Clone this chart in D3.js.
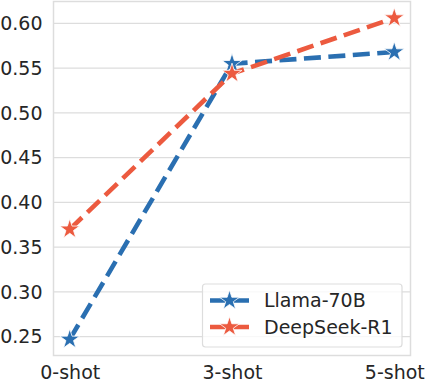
<!DOCTYPE html>
<html><head><meta charset="utf-8">
<script src="https://cdn.jsdelivr.net/npm/d3@7"></script>
<style>body{margin:0;background:#fff}svg{display:block;font-family:"DejaVu Sans",sans-serif}</style>
</head><body><svg id="c" width="426" height="384"></svg>
<script>
const categories = ["0-shot", "3-shot", "5-shot"];
const seriesNames = ["Llama-70B", "DeepSeek-R1"];
const llama = [0.247, 0.555, 0.568];
const deepseek = [0.370, 0.544, 0.606];
const yTicks = [0.25, 0.30, 0.35, 0.40, 0.45, 0.50, 0.55, 0.60];
const colors = ["#2a6fb1", "#ec5a3f"];

const svg = d3.select("#c");
const L = 53.5, R = 410.5, T = 1.5, B = 355.5;
const x = d3.scalePoint().domain(categories).range([L, R]).padding(0.1);
const y = d3.scaleLinear().domain([0.229, 0.6245]).range([B, T]);

// grid
svg.append("g").selectAll("line").data(yTicks).join("line")
  .attr("x1", L).attr("x2", R).attr("y1", d => y(d)).attr("y2", d => y(d))
  .attr("stroke", "#dddddd").attr("stroke-width", 1.2);
// frame
svg.append("rect").attr("x", L).attr("y", T).attr("width", R - L).attr("height", B - T)
  .attr("fill", "none").attr("stroke", "#dddddd").attr("stroke-width", 1.5);

// y axis
const ya = svg.append("g").attr("transform", `translate(${L},0)`)
  .call(d3.axisLeft(y).tickValues(yTicks).tickFormat(d3.format(".2f")).tickSize(0).tickPadding(11));
ya.select(".domain").remove();
ya.selectAll("text").attr("font-size", "19px").attr("fill", "#262626").attr("font-family", "DejaVu Sans");

// x axis
const xa = svg.append("g").attr("transform", `translate(0,${B})`)
  .call(d3.axisBottom(x).tickSize(0).tickPadding(10));
xa.select(".domain").remove();
xa.selectAll("text").attr("font-size", "19px").attr("fill", "#262626").attr("font-family", "DejaVu Sans");

const star = d3.symbol().type(d3.symbolStar).size(122);
const line = d3.line().x((d, i) => x(categories[i])).y(d => y(d));
[llama, deepseek].forEach((vals, k) => {
  svg.append("path").datum(vals).attr("d", line).attr("fill", "none")
    .attr("stroke", colors[k]).attr("stroke-width", 4.6).attr("stroke-dasharray", "17,7.5");
  svg.append("g").selectAll("path").data(vals).join("path")
    .attr("d", star).attr("transform", (d, i) => `translate(${x(categories[i])},${y(d)})`)
    .attr("fill", colors[k]).attr("stroke", "#fff").attr("stroke-width", 0.8);
});

// legend
const lg = svg.append("g");
lg.append("rect").attr("x", 202.5).attr("y", 284).attr("width", 199.5).attr("height", 63)
  .attr("rx", 3).attr("fill", "#fff").attr("fill-opacity", 0.8).attr("stroke", "#dddddd").attr("stroke-width", 1.2);
seriesNames.forEach((n, k) => {
  const cy = 300.5 + k * 26.5;
  lg.append("line").attr("x1", 210).attr("x2", 249).attr("y1", cy).attr("y2", cy)
    .attr("stroke", colors[k]).attr("stroke-width", 4.6);
  lg.append("path").attr("d", star).attr("transform", `translate(229.5,${cy})`)
    .attr("fill", colors[k]).attr("stroke", "#fff").attr("stroke-width", 0.8);
  lg.append("text").attr("x", 264).attr("y", cy).attr("dy", "0.35em")
    .attr("font-size", "19px").attr("fill", "#262626").text(n);
});
</script></body></html>
